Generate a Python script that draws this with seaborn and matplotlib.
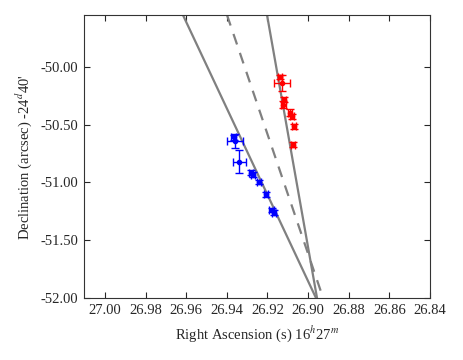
import matplotlib
matplotlib.use('Agg')
import matplotlib.pyplot as plt
import seaborn as sns
import pandas as pd

# red component (positions, s / arcsec)
red_ra = [26.9138, 26.9127, 26.9118, 26.9122, 26.9089, 26.9077, 26.9069, 26.9075]
red_dec = [-50.086, -50.140, -50.284, -50.328, -50.394, -50.428, -50.515, -50.672]
red_ra_err = [0.0012, 0.0040, 0.0010, 0.0012, 0.0012, 0.0010, 0.0010, 0.0010]
red_dec_err = [0.020, 0.070, 0.020, 0.030, 0.030, 0.020, 0.020, 0.020]

# blue component
blue_ra = [26.9365, 26.9360, 26.9338, 26.9281, 26.9273, 26.9240, 26.9209, 26.9179, 26.9167]
blue_dec = [-50.609, -50.638, -50.820, -50.916, -50.931, -50.997, -51.103, -51.238, -51.261]
blue_ra_err = [0.0012, 0.0040, 0.0030, 0.0010, 0.0010, 0.0010, 0.0010, 0.0012, 0.0010]
blue_dec_err = [0.020, 0.060, 0.100, 0.020, 0.020, 0.020, 0.020, 0.020, 0.020]

# fitted tracks (end points)
left_fit_ra = [26.9616, 26.8961]
right_fit_ra = [26.9202, 26.8956]
mid_fit_ra = [26.9399, 26.8926]
fit_dec = [-49.55, -52.00]

sns.set_style('ticks')
plt.rcParams['font.family'] = ['Liberation Serif', 'DejaVu Serif']
plt.rcParams['mathtext.fontset'] = 'stix'
plt.rcParams['font.size'] = 10

fig = plt.figure(figsize=(4.63, 3.6), dpi=100)
ax = fig.add_axes([0.1814, 0.1722, 0.7473, 0.7861])

fits = pd.DataFrame({
    'ra': left_fit_ra + right_fit_ra + mid_fit_ra,
    'dec': fit_dec * 3,
    'track': ['left'] * 2 + ['right'] * 2 + ['mid'] * 2,
})
sns.lineplot(data=fits[fits.track != 'mid'], x='ra', y='dec', units='track',
             estimator=None, sort=False, color='#808080', lw=1.6, ax=ax)
sns.lineplot(data=fits[fits.track == 'mid'], x='ra', y='dec', sort=False,
             color='#808080', lw=1.6, ls=(0, (5, 4)), ax=ax)

ax.errorbar(red_ra, red_dec, xerr=red_ra_err, yerr=red_dec_err, fmt='o',
            color='red', ms=3, capsize=3, elinewidth=1, capthick=1)
ax.errorbar(blue_ra, blue_dec, xerr=blue_ra_err, yerr=blue_dec_err, fmt='o',
            color='blue', ms=3, capsize=3, elinewidth=1, capthick=1)

ax.set_xlim(27.0103, 26.84)
ax.set_ylim(-52.0, -49.55)
ax.set_xticks([27.00, 26.98, 26.96, 26.94, 26.92, 26.90, 26.88, 26.86, 26.84])
ax.set_yticks([-52.0, -51.5, -51.0, -50.5, -50.0])
ax.xaxis.set_major_formatter(matplotlib.ticker.FormatStrFormatter('%.2f'))
ax.yaxis.set_major_formatter(matplotlib.ticker.FormatStrFormatter('%.2f'))
ax.tick_params(direction='in', top=True, right=True, length=4, width=0.8,
               labelsize=10.5, pad=4)
for s in ax.spines.values():
    s.set_linewidth(0.8)
    s.set_color('#333333')

ax.set_xlabel('Right Ascension (s) 16$^{h}$27$^{m}$', fontsize=10.5, labelpad=5)
ax.set_ylabel("Declination (arcsec) -24$^{d}$40'", fontsize=10.5, labelpad=5)

fig.savefig('out.png', dpi=100)
